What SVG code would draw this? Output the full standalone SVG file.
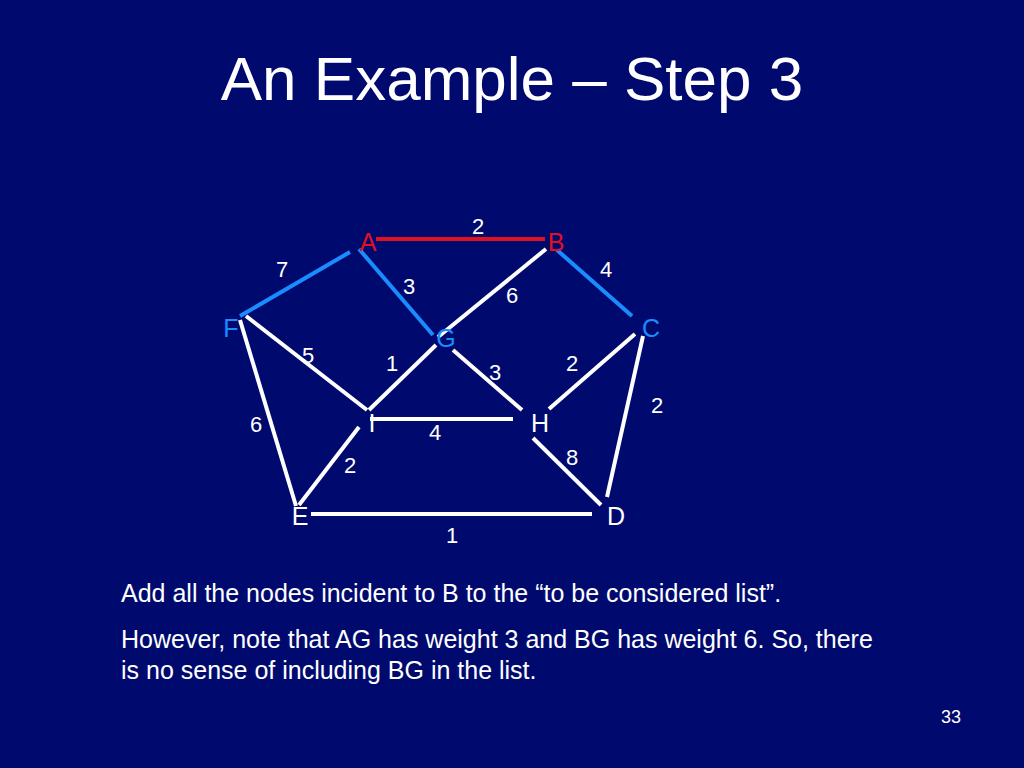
<svg xmlns="http://www.w3.org/2000/svg" width="1024" height="768" viewBox="0 0 1024 768">
<style>
text{font-family:"Liberation Sans",Arial,sans-serif}
.n{font-size:25px;text-anchor:middle;dominant-baseline:central}
.w{font-size:22px;fill:#fff;text-anchor:middle;dominant-baseline:central}
.e{stroke:#fff;stroke-width:4}
.b{stroke:#1a8cff;stroke-width:4}
.r{stroke:#e01020;stroke-width:4}
.t{font-size:25px;fill:#fff}
</style>
<rect width="1024" height="768" fill="#000a6e"/>
<text x="512" y="100" font-size="62" fill="#fff" text-anchor="middle">An Example – Step 3</text>
<g id="connectors">
<line class="r" x1="376" y1="239" x2="545" y2="239"/>
<line class="b" x1="350" y1="252" x2="240" y2="316"/>
<line class="b" x1="359" y1="249" x2="433" y2="335"/>
<line class="b" x1="557" y1="250" x2="632" y2="316"/>
<line class="e" x1="546" y1="249" x2="438" y2="337"/>
<line class="e" x1="246" y1="316" x2="367" y2="410"/>
<line class="e" x1="436" y1="345" x2="369" y2="410"/>
<line class="e" x1="453" y1="350" x2="522" y2="410"/>
<line class="e" x1="549" y1="409" x2="635" y2="334"/>
<line class="e" x1="643" y1="336" x2="607" y2="497"/>
<line class="e" x1="370" y1="419" x2="513" y2="419"/>
<line class="e" x1="359" y1="427" x2="299" y2="505"/>
<line class="e" x1="533" y1="438" x2="601" y2="505"/>
<line class="e" x1="240" y1="320" x2="296" y2="506"/>
<line class="e" x1="311" y1="514" x2="592" y2="514"/>
<text class="w" x="478" y="226">2</text>
<text class="w" x="282" y="269">7</text>
<text class="w" x="409" y="286">3</text>
<text class="w" x="512" y="295">6</text>
<text class="w" x="606" y="269">4</text>
<text class="w" x="308" y="355">5</text>
<text class="w" x="392" y="363">1</text>
<text class="w" x="495" y="372">3</text>
<text class="w" x="572" y="363">2</text>
<text class="w" x="657" y="405">2</text>
<text class="w" x="256" y="424">6</text>
<text class="w" x="435" y="432">4</text>
<text class="w" x="350" y="465">2</text>
<text class="w" x="572" y="457">8</text>
<text class="w" x="452" y="535">1</text>
</g>
<g id="A"><text class="n" x="368" y="242" fill="#e01020">A</text></g>
<g id="B"><text class="n" x="556" y="242" fill="#e01020">B</text></g>
<g id="C"><text class="n" x="651" y="328" fill="#1a8cff">C</text></g>
<g id="F"><text class="n" x="231" y="328" fill="#1a8cff">F</text></g>
<g id="G"><text class="n" x="446" y="338" fill="#1a8cff">G</text></g>
<g id="I"><text class="n" x="372" y="423" fill="#fff">I</text></g>
<g id="H"><text class="n" x="540" y="423" fill="#fff">H</text></g>
<g id="E"><text class="n" x="300" y="516" fill="#fff">E</text></g>
<g id="D"><text class="n" x="616" y="516" fill="#fff">D</text></g>
<text class="t" x="121" y="602">Add all the nodes incident to B to the “to be considered list”.</text>
<text class="t" x="121" y="648">However, note that AG has weight 3 and BG has weight 6. So, there</text>
<text class="t" x="121" y="679">is no sense of including BG in the list.</text>
<text x="951" y="723" font-size="18" fill="#fff" text-anchor="middle">33</text>
</svg>
